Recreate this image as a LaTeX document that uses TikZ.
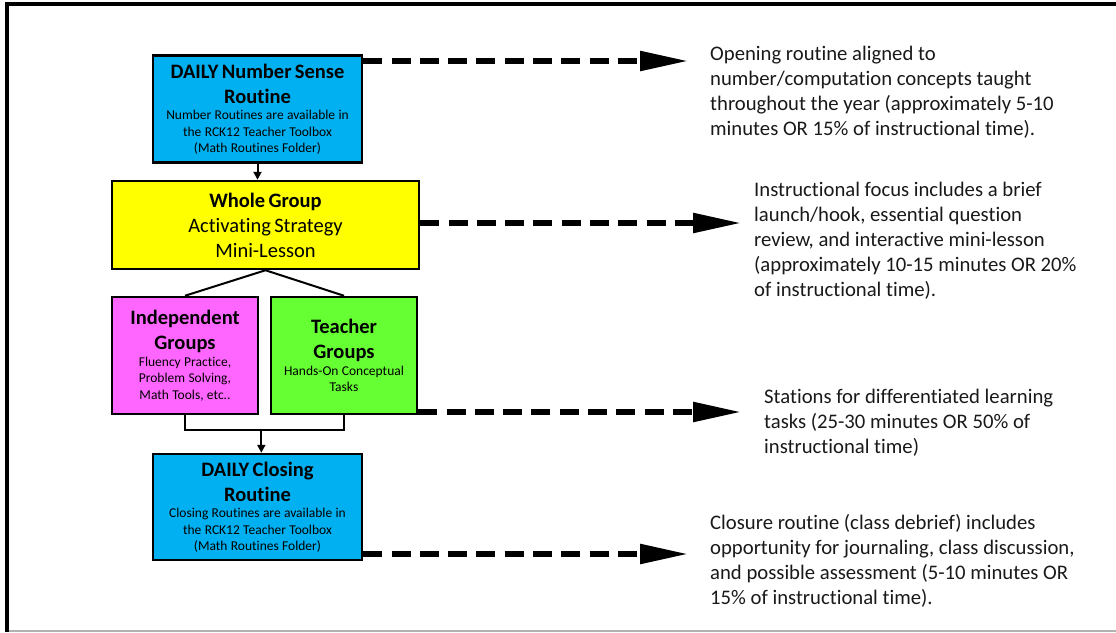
\documentclass[tikz,border=0pt]{standalone}
\usepackage{fontspec}
\setmainfont{Carlito}[Ligatures=NoCommon]
\usetikzlibrary{calc,positioning,arrows.meta}
\definecolor{color_routine}{HTML}{00b0f0}
\definecolor{color_whole}{HTML}{ffff00}
\definecolor{color_indep}{HTML}{ff66ff}
\definecolor{color_teacher}{HTML}{66ff33}
\newcommand{\headsize}{\fontsize{20.5}{25}\selectfont}
\newcommand{\smallsize}{\fontsize{13.5}{16.5}\selectfont}

\begin{document}
\begin{tikzpicture}[x=1pt,y=-1pt,
		box/.style={draw=black,line width=2.5pt,rectangle,inner sep=0,align=center},
		note/.style={anchor=north west,inner sep=0,align=left,font=\fontsize{20.7}{25}\selectfont,text=black!90},
		timearrow/.style={line width=5.5pt,dash pattern=on 19pt off 9.3pt,-{Triangle[length=48pt,width=19pt]}},
		steparrow/.style={line width=2pt,-{Triangle[length=8pt,width=8pt]}}
	]
	\useasboundingbox (0,0) rectangle (1116,632);
	% Frame
	\draw[line width=4pt] (6.7,632) -- (6.7,3.7) -- (1116,3.7);
	\draw[line width=1.5pt,black!30] (8.7,630.8) -- (1116,630.8);

	% Boxes
	\node[box,fill=color_routine,minimum width=209,minimum height=107,text width=205]
		(opening) at (257.5,109)
		{{\headsize\bfseries DAILY Number Sense\\ Routine\par}
		 {\smallsize Number Routines are available in\\ the RCK12 Teacher Toolbox\\ (Math Routines Folder)\par}};
	\node[box,fill=color_whole,minimum width=307,minimum height=88,text width=300]
		(whole) at (265.5,225)
		{{\headsize\bfseries Whole Group\par}
		 {\headsize Activating Strategy\\ Mini-Lesson\par}};
	\node[box,fill=color_indep,minimum width=146,minimum height=117,text width=142]
		(indep) at (185,355.5)
		{{\headsize\bfseries Independent\\ Groups\par}
		 {\smallsize Fluency Practice,\\ Problem Solving,\\ Math Tools, etc..\par}};
	\node[box,fill=color_teacher,minimum width=146,minimum height=117,text width=142]
		(teacher) at (344,355.5)
		{{\headsize\bfseries Teacher\\ Groups\par}
		 {\smallsize Hands-On Conceptual\\ Tasks\par}};
	\node[box,fill=color_routine,minimum width=209,minimum height=106,text width=205]
		(closing) at (257.5,507)
		{{\headsize\bfseries DAILY Closing\\ Routine\par}
		 {\smallsize Closing Routines are available in\\ the RCK12 Teacher Toolbox\\ (Math Routines Folder)\par}};

	% Flow
	\coordinate (join) at ($(indep.south)!0.48!(teacher.south) + (0,15)$);
	\draw[steparrow] (opening) -- (opening |- whole.north);
	\draw[line width=2pt]
		(whole.south) -- (indep.north)
		(whole.south) -- (teacher.north)
		;
	\draw[line width=2pt] (indep.south) |- (join) -| (teacher.south);
	\draw[steparrow] (join) -- (closing.north -| join);

	% Time arrows
	\coordinate (tip1) at (688,61);
	\coordinate (tip2) at (741,223);
	\coordinate (tip3) at (741,412);
	\coordinate (tip4) at (688,554);
	\draw[timearrow] (opening.north east |- tip1) -- (tip1);
	\draw[timearrow] (whole.east |- tip2) -- (tip2);
	\draw[timearrow] (teacher.east |- tip3) -- (tip3);
	\draw[timearrow] (closing.east |- tip4) -- (tip4);

	% Notes
	\node[note] (note1) at (710,42.5)
		{\strut Opening routine aligned to\\ number/computation concepts taught\\ throughout the year (approximately 5-10\\ minutes OR 15\% of instructional time).};
	\node[note] (note2) at (754,178.5)
		{\strut Instructional focus includes a brief\\ launch/hook, essential question\\ review, and interactive mini-lesson\\ (approximately 10-15 minutes OR 20\%\\ of instructional time).};
	\node[note] (note3) at (764,386)
		{\strut Stations for differentiated learning\\ tasks (25-30 minutes OR 50\% of\\ instructional time)};
	\node[note] (note4) at (710,511.5)
		{\strut Closure routine (class debrief) includes\\ opportunity for journaling, class discussion,\\ and possible assessment (5-10 minutes OR\\ 15\% of instructional time).};
\end{tikzpicture}
\end{document}
